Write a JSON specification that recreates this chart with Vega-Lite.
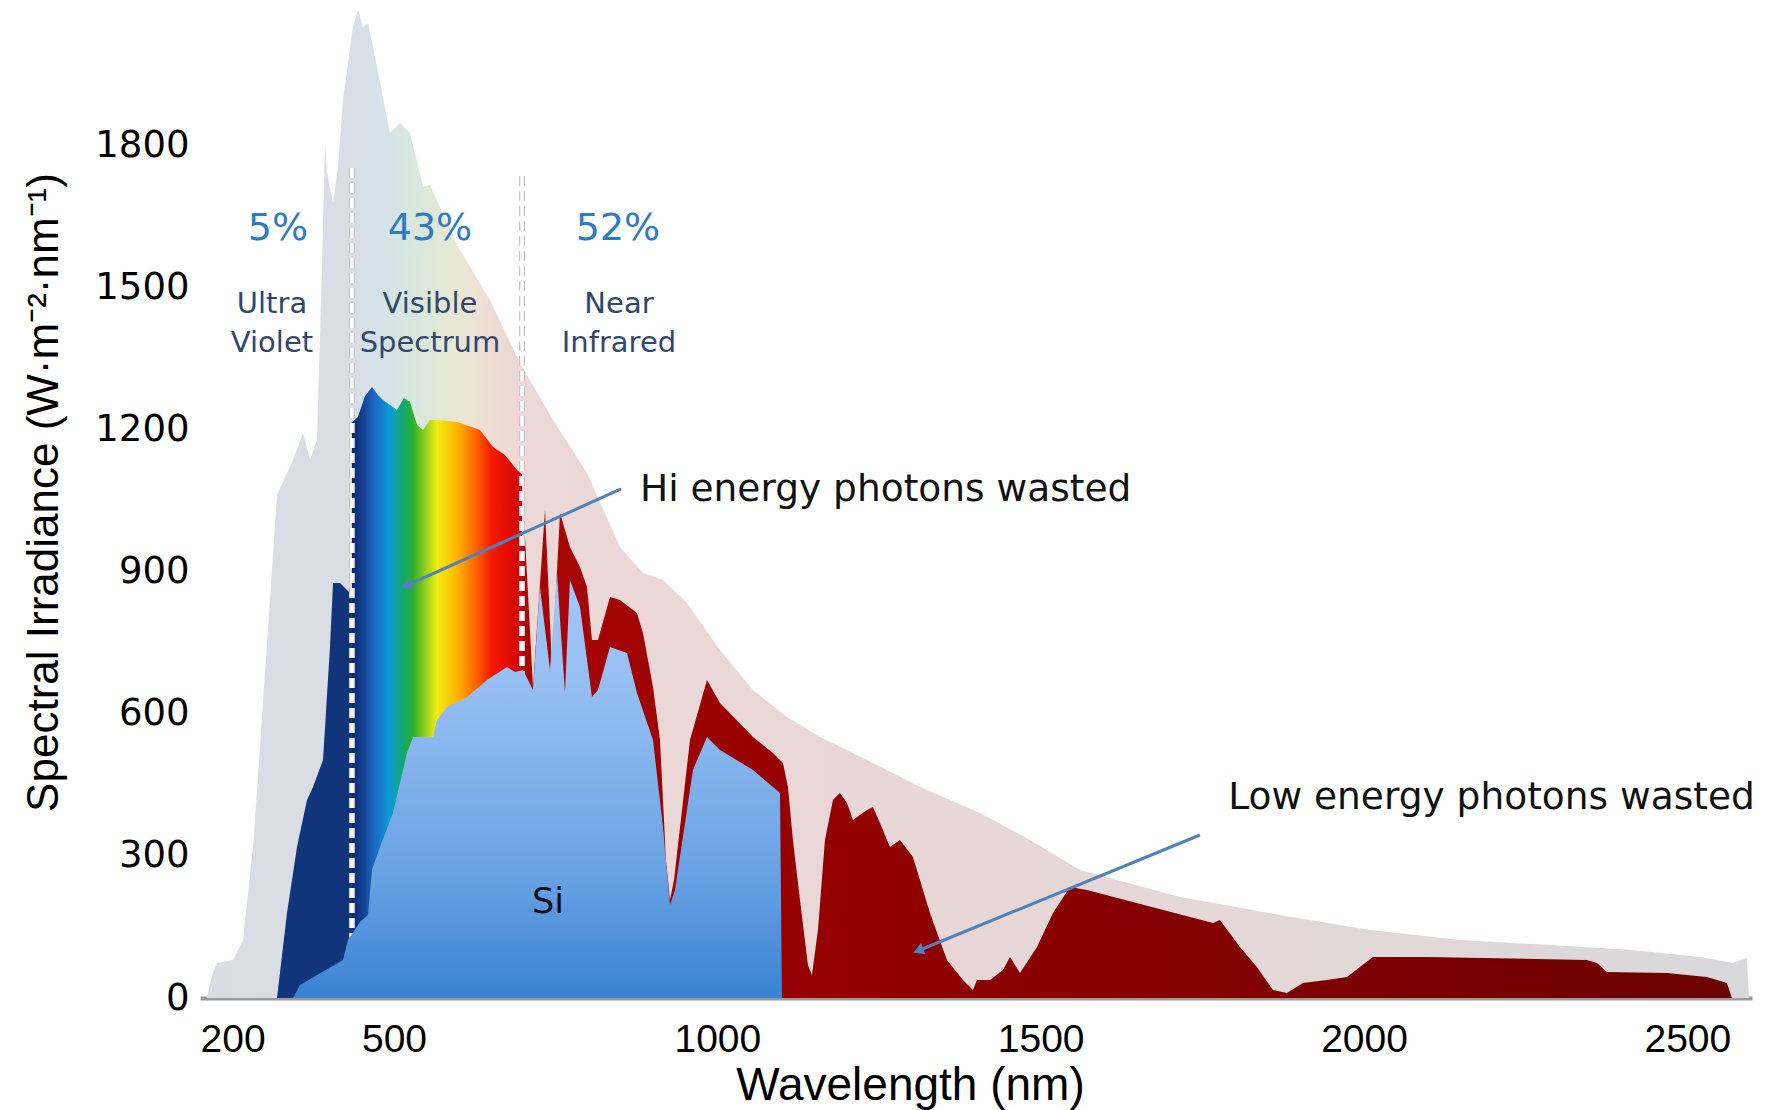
{
  "$schema": "https://vega.github.io/schema/vega-lite/v6.json",
  "width": 1552,
  "height": 995,
  "autosize": {"type": "none"},
  "padding": {"left": 200, "top": 3, "right": 26, "bottom": 112},
  "background": "white",
  "config": {"view": {"stroke": null}},
  "datasets": {
    "am0": [
      {"wl": 210.8, "irr": 0}, {"wl": 218.6, "irr": 48.5}, {"wl": 226.3, "irr": 73.9}, {"wl": 251.0, "irr": 80.2},
      {"wl": 266.5, "irr": 122.5}, {"wl": 282.0, "irr": 318.7}, {"wl": 292.8, "irr": 529.8}, {"wl": 308.2, "irr": 840.0},
      {"wl": 319.1, "irr": 1061.6}, {"wl": 343.8, "irr": 1135.5}, {"wl": 359.3, "irr": 1192.5}, {"wl": 370.1, "irr": 1135.5},
      {"wl": 380.9, "irr": 1177.7}, {"wl": 388.6, "irr": 1542.9}, {"wl": 393.3, "irr": 1804.6}, {"wl": 396.4, "irr": 1741.2},
      {"wl": 405.7, "irr": 1677.9}, {"wl": 413.4, "irr": 1753.9}, {"wl": 421.1, "irr": 1895.3}, {"wl": 436.6, "irr": 2049.4},
      {"wl": 444.3, "irr": 2085.3}, {"wl": 452.0, "irr": 2049.4}, {"wl": 459.8, "irr": 2057.8}, {"wl": 473.7, "irr": 1965.0},
      {"wl": 493.8, "irr": 1825.7}, {"wl": 509.3, "irr": 1846.8}, {"wl": 524.7, "irr": 1825.7}, {"wl": 544.8, "irr": 1711.7},
      {"wl": 555.6, "irr": 1715.9}, {"wl": 597.4, "irr": 1589.3}, {"wl": 648.4, "irr": 1473.2}, {"wl": 694.8, "irr": 1340.2},
      {"wl": 745.8, "irr": 1219.9}, {"wl": 798.4, "irr": 1108.1}, {"wl": 849.4, "irr": 951.9}, {"wl": 885.0, "irr": 897.0},
      {"wl": 915.9, "irr": 882.2}, {"wl": 953.0, "irr": 833.7}, {"wl": 1004.1, "irr": 734.5}, {"wl": 1055.1, "irr": 650.1},
      {"wl": 1107.7, "irr": 593.1}, {"wl": 1158.7, "irr": 550.9}, {"wl": 1209.7, "irr": 517.1}, {"wl": 1262.3, "irr": 481.2},
      {"wl": 1313.3, "irr": 445.3}, {"wl": 1406.1, "irr": 390.5}, {"wl": 1483.4, "irr": 333.5}, {"wl": 1560.7, "irr": 270.2},
      {"wl": 1715.4, "irr": 213.2}, {"wl": 1870.0, "irr": 175.2}, {"wl": 2009.2, "irr": 143.5}, {"wl": 2148.3, "irr": 122.5},
      {"wl": 2287.5, "irr": 111.9}, {"wl": 2415.8, "irr": 101.3}, {"wl": 2519.5, "irr": 86.5}, {"wl": 2570.5, "irr": 73.9},
      {"wl": 2592.1, "irr": 84.4}, {"wl": 2595.2, "irr": 0}
    ],
    "uv": [
      {"wl": 319.1, "irr": 0}, {"wl": 334.5, "irr": 179.4}, {"wl": 350.0, "irr": 318.7}, {"wl": 365.5, "irr": 417.9},
      {"wl": 374.7, "irr": 445.3}, {"wl": 390.2, "irr": 502.3}, {"wl": 401.0, "irr": 740.8}, {"wl": 405.7, "irr": 875.9},
      {"wl": 416.5, "irr": 875.9}, {"wl": 427.3, "irr": 861.1}, {"wl": 435.0, "irr": 850.6}
    ],
    "vis": [
      {"wl": 435.0, "irr": 1215}, {"wl": 444.3, "irr": 1226}, {"wl": 455.0, "irr": 1270}, {"wl": 466.0, "irr": 1289.6},
      {"wl": 475.2, "irr": 1272.7}, {"wl": 483.0, "irr": 1262.1}, {"wl": 493.8, "irr": 1251.6}, {"wl": 504.6, "irr": 1241.0},
      {"wl": 515.4, "irr": 1266.4}, {"wl": 524.7, "irr": 1257.9}, {"wl": 535.6, "irr": 1209.4}, {"wl": 544.8, "irr": 1198.8},
      {"wl": 555.6, "irr": 1219.9}, {"wl": 566.5, "irr": 1219.9}, {"wl": 597.4, "irr": 1215.7}, {"wl": 633.0, "irr": 1198.8},
      {"wl": 653.1, "irr": 1162.9}, {"wl": 671.6, "irr": 1146.1}, {"wl": 690.2, "irr": 1114.4}, {"wl": 698.0, "irr": 1105}
    ],
    "nir": [
      {"wl": 698.0, "irr": 967}, {"wl": 702.5, "irr": 973.0}, {"wl": 714.9, "irr": 656.4}, {"wl": 733.5, "irr": 1030.0},
      {"wl": 744.3, "irr": 698.6}, {"wl": 756.7, "irr": 1023.6}, {"wl": 772.1, "irr": 951.9}, {"wl": 787.6, "irr": 909.7},
      {"wl": 798.4, "irr": 867.5}, {"wl": 806.1, "irr": 755.6}, {"wl": 815.4, "irr": 755.6}, {"wl": 834.0, "irr": 846.4},
      {"wl": 849.4, "irr": 840.0}, {"wl": 875.7, "irr": 812.6}, {"wl": 885.0, "irr": 770.4}, {"wl": 900.5, "irr": 656.4},
      {"wl": 911.3, "irr": 544.5}, {"wl": 920.6, "irr": 291.3}, {"wl": 926.8, "irr": 206.8}, {"wl": 933.0, "irr": 249.1},
      {"wl": 957.7, "irr": 544.5}, {"wl": 984.0, "irr": 671.2}, {"wl": 1004.1, "irr": 622.6}, {"wl": 1055.1, "irr": 550.9},
      {"wl": 1086.0, "irr": 517.1}, {"wl": 1101.5, "irr": 496.0}, {"wl": 1109.2, "irr": 445.3}, {"wl": 1116.9, "irr": 333.5},
      {"wl": 1127.8, "irr": 206.8}, {"wl": 1140.1, "irr": 69.6}, {"wl": 1146.3, "irr": 48.5}, {"wl": 1155.6, "irr": 143.5},
      {"wl": 1166.4, "irr": 333.5}, {"wl": 1178.8, "irr": 417.9}, {"wl": 1189.6, "irr": 432.7}, {"wl": 1200.5, "irr": 411.6},
      {"wl": 1209.7, "irr": 375.7}, {"wl": 1231.4, "irr": 396.8}, {"wl": 1240.7, "irr": 403.1}, {"wl": 1251.5, "irr": 369.4},
      {"wl": 1266.9, "irr": 318.7}, {"wl": 1282.4, "irr": 333.5}, {"wl": 1302.5, "irr": 297.6}, {"wl": 1328.8, "irr": 179.4},
      {"wl": 1355.1, "irr": 80.2}, {"wl": 1379.8, "irr": 38.0}, {"wl": 1395.3, "irr": 16.9}, {"wl": 1401.5, "irr": 38.0},
      {"wl": 1421.6, "irr": 38.0}, {"wl": 1441.7, "irr": 59.1}, {"wl": 1452.5, "irr": 86.5}, {"wl": 1468.0, "irr": 52.8},
      {"wl": 1494.3, "irr": 107.6}, {"wl": 1519.0, "irr": 179.4}, {"wl": 1545.3, "irr": 234.3}, {"wl": 1571.6, "irr": 227.9},
      {"wl": 1766.4, "irr": 158.3}, {"wl": 1777.2, "irr": 164.6}, {"wl": 1808.2, "irr": 107.6}, {"wl": 1834.4, "irr": 65.4},
      {"wl": 1859.2, "irr": 16.9}, {"wl": 1880.8, "irr": 10.6}, {"wl": 1905.6, "irr": 31.7}, {"wl": 1942.7, "irr": 38.0},
      {"wl": 1973.6, "irr": 44.3}, {"wl": 1993.7, "irr": 65.4}, {"wl": 2013.8, "irr": 86.5}, {"wl": 2097.3, "irr": 86.5},
      {"wl": 2344.7, "irr": 80.2}, {"wl": 2360.2, "irr": 73.9}, {"wl": 2375.6, "irr": 54.9}, {"wl": 2468.4, "irr": 52.8},
      {"wl": 2530.3, "irr": 44.3}, {"wl": 2561.2, "irr": 31.7}, {"wl": 2569.0, "irr": 0}
    ],
    "si": [
      {"wl": 343.8, "irr": 0}, {"wl": 354.6, "irr": 27.4}, {"wl": 421.1, "irr": 80.2}, {"wl": 428.8, "irr": 122.4},
      {"wl": 447.4, "irr": 160.4}, {"wl": 459.8, "irr": 175.2}, {"wl": 466.0, "irr": 270.2}, {"wl": 478.3, "irr": 318.7},
      {"wl": 498.4, "irr": 390.5}, {"wl": 520.1, "irr": 517.1}, {"wl": 529.4, "irr": 550.9}, {"wl": 560.3, "irr": 550.9},
      {"wl": 566.5, "irr": 586.7}, {"wl": 581.9, "irr": 614.2}, {"wl": 612.9, "irr": 635.3}, {"wl": 643.8, "irr": 671.2},
      {"wl": 674.7, "irr": 698.6}, {"wl": 687.1, "irr": 688.1}, {"wl": 699.5, "irr": 692.3}, {"wl": 714.9, "irr": 650.1},
      {"wl": 725.7, "irr": 867.5}, {"wl": 741.2, "irr": 692.3}, {"wl": 752.0, "irr": 897.0}, {"wl": 764.4, "irr": 643.7},
      {"wl": 772.1, "irr": 882.2}, {"wl": 787.6, "irr": 825.2}, {"wl": 806.1, "irr": 635.3}, {"wl": 815.4, "irr": 650.1},
      {"wl": 834.0, "irr": 740.8}, {"wl": 860.3, "irr": 728.2}, {"wl": 875.7, "irr": 643.7}, {"wl": 900.5, "irr": 544.5},
      {"wl": 915.9, "irr": 360.9}, {"wl": 926.8, "irr": 196.3}, {"wl": 934.5, "irr": 227.9}, {"wl": 962.3, "irr": 481.2},
      {"wl": 984.0, "irr": 550.9}, {"wl": 1004.1, "irr": 523.4}, {"wl": 1055.1, "irr": 481.2}, {"wl": 1096.9, "irr": 432.7},
      {"wl": 1099.9, "irr": 0}
    ],
    "bounds": [
      {"wl": 435, "irr": 1752, "irr2": 0},
      {"wl": 698, "irr": 1735, "irr2": 0}
    ],
    "arrows": [
      {"wl": 851.0, "irr": 1074.3, "wl2": 521.6, "irr2": 871.7},
      {"wl": 1746.3, "irr": 344.0, "wl2": 1313.3, "irr2": 101.3}
    ],
    "pct": [
      {"wl": 320.6, "irr": 1623, "label": "5%"},
      {"wl": 555.6, "irr": 1623, "label": "43%"},
      {"wl": 846.4, "irr": 1623, "label": "52%"}
    ],
    "regions": [
      {"wl": 311.3, "irr": 1465, "label": "Ultra"},
      {"wl": 311.3, "irr": 1382, "label": "Violet"},
      {"wl": 555.6, "irr": 1465, "label": "Visible"},
      {"wl": 555.6, "irr": 1382, "label": "Spectrum"},
      {"wl": 847.9, "irr": 1465, "label": "Near"},
      {"wl": 847.9, "irr": 1382, "label": "Infrared"}
    ],
    "notes": [
      {"wl": 880.4, "irr": 1072, "label": "Hi energy photons wasted"},
      {"wl": 1790.1, "irr": 422, "label": "Low energy photons wasted"}
    ],
    "silabel": [
      {"wl": 738.1, "irr": 203, "label": "Si"}
    ]
  },
  "encoding": {
    "x": {
      "field": "wl", "type": "quantitative",
      "scale": {"domain": [200, 2600], "nice": false, "zero": false},
      "axis": {
        "values": [200, 500, 1000, 1500, 2000, 2500],
        "format": "d",
        "title": "Wavelength (nm)",
        "grid": false, "ticks": false,
        "domain": true, "domainColor": "#9a9a9a", "domainWidth": 4,
        "labelFont": "Liberation Sans", "labelFontSize": 39, "labelColor": "#000000",
        "labelPadding": 22, "labelFlush": true, "labelOverlap": false, "labelBound": false,
        "titleFont": "Liberation Sans", "titleFontSize": 46, "titleFontWeight": "normal", "titleColor": "#000000",
        "titleX": 710, "titleY": 101, "titleAlign": "center", "titleBaseline": "alphabetic"
      }
    },
    "y": {
      "field": "irr", "type": "quantitative", "stack": null,
      "scale": {"domain": [0, 2100], "nice": false},
      "axis": {
        "values": [0, 300, 600, 900, 1200, 1500, 1800],
        "format": "d",
        "title": "Spectral Irradiance (W·m⁻²·nm⁻¹)",
        "grid": false, "ticks": false, "domain": false,
        "labelFont": "DejaVu Sans", "labelFontSize": 37, "labelColor": "#000000",
        "labelPadding": 11,
        "titleFont": "Liberation Sans", "titleFontSize": 44, "titleFontWeight": "normal", "titleColor": "#000000",
        "titleAngle": 270, "titleX": -143, "titleY": 489, "titleAlign": "center", "titleBaseline": "alphabetic"
      }
    }
  },
  "layer": [
    {
      "data": {"name": "am0"},
      "mark": {"type": "area", "fill": {"gradient": "linear", "x1": 0, "y1": 0, "x2": 1, "y2": 0, "stops": [
        {"offset": 0, "color": "#d9dce2"},
        {"offset": 0.09, "color": "#dadee4"},
        {"offset": 0.109, "color": "#d5e1ea"},
        {"offset": 0.128, "color": "#d7e6e2"},
        {"offset": 0.145, "color": "#dde8d8"},
        {"offset": 0.161, "color": "#e9e9d4"},
        {"offset": 0.18, "color": "#eedfd5"},
        {"offset": 0.2, "color": "#ecd8d6"},
        {"offset": 0.45, "color": "#e8d7d7"},
        {"offset": 0.77, "color": "#e2d8d8"},
        {"offset": 1, "color": "#d8d8da"}
      ]}}
    },
    {
      "data": {"name": "uv"},
      "mark": {"type": "area", "color": "#10357a"}
    },
    {
      "data": {"name": "vis"},
      "mark": {"type": "area", "fill": {"gradient": "linear", "x1": 0, "y1": 0, "x2": 1, "y2": 0, "stops": [
        {"offset": 0, "color": "#0b2a6b"},
        {"offset": 0.06, "color": "#143e8f"},
        {"offset": 0.13, "color": "#1a66c0"},
        {"offset": 0.22, "color": "#0b9bd8"},
        {"offset": 0.3, "color": "#12a86a"},
        {"offset": 0.36, "color": "#2eae2e"},
        {"offset": 0.5, "color": "#f2ee12"},
        {"offset": 0.62, "color": "#ffb300"},
        {"offset": 0.72, "color": "#ff6a00"},
        {"offset": 0.82, "color": "#f51a00"},
        {"offset": 1, "color": "#d00000"}
      ]}}
    },
    {
      "data": {"name": "nir"},
      "mark": {"type": "area", "fill": {"gradient": "linear", "x1": 0, "y1": 0, "x2": 1, "y2": 0, "stops": [
        {"offset": 0, "color": "#a80606"},
        {"offset": 0.2, "color": "#980000"},
        {"offset": 0.5, "color": "#850000"},
        {"offset": 1, "color": "#6c0000"}
      ]}}
    },
    {
      "data": {"name": "bounds"},
      "mark": {"type": "rule", "color": "#c4c4c4", "strokeWidth": 6, "strokeDash": [10, 5]},
      "encoding": {"y2": {"field": "irr2"}}
    },
    {
      "data": {"name": "bounds"},
      "mark": {"type": "rule", "color": "#ffffff", "strokeWidth": 3.5, "strokeDash": [10, 5]},
      "encoding": {"y2": {"field": "irr2"}}
    },
    {
      "data": {"name": "si"},
      "mark": {"type": "area", "fill": {"gradient": "linear", "x1": 0, "y1": 0, "x2": 0, "y2": 1, "stops": [
        {"offset": 0, "color": "#a4c8f7"},
        {"offset": 0.3, "color": "#93bdf2"},
        {"offset": 0.7, "color": "#6aa3e4"},
        {"offset": 1, "color": "#3a82d2"}
      ]}}
    },
    {
      "data": {"name": "arrows"},
      "mark": {"type": "rule", "color": "#4f81bd", "strokeWidth": 3},
      "encoding": {"x2": {"field": "wl2"}, "y2": {"field": "irr2"}}
    },
    {
      "data": {"values": [{"wl": 521.6, "irr": 871.7}]},
      "mark": {"type": "point", "shape": "triangle", "filled": true, "size": 150, "angle": 246, "color": "#4f81bd", "opacity": 1}
    },
    {
      "data": {"values": [{"wl": 1313.3, "irr": 101.3}]},
      "mark": {"type": "point", "shape": "triangle", "filled": true, "size": 150, "angle": 248, "color": "#4f81bd", "opacity": 1}
    },
    {
      "data": {"name": "pct"},
      "mark": {"type": "text", "font": "DejaVu Sans", "fontSize": 38, "color": "#2e7bc4", "align": "center", "baseline": "middle"},
      "encoding": {"text": {"field": "label"}}
    },
    {
      "data": {"name": "regions"},
      "mark": {"type": "text", "font": "DejaVu Sans", "fontSize": 29, "color": "#33476b", "align": "center", "baseline": "middle"},
      "encoding": {"text": {"field": "label"}}
    },
    {
      "data": {"name": "notes"},
      "mark": {"type": "text", "font": "DejaVu Sans", "fontSize": 37.5, "color": "#111111", "align": "left", "baseline": "middle"},
      "encoding": {"text": {"field": "label"}}
    },
    {
      "data": {"name": "silabel"},
      "mark": {"type": "text", "font": "DejaVu Sans", "fontSize": 35, "color": "#0a0a1e", "align": "center", "baseline": "middle"},
      "encoding": {"text": {"field": "label"}}
    }
  ]
}
